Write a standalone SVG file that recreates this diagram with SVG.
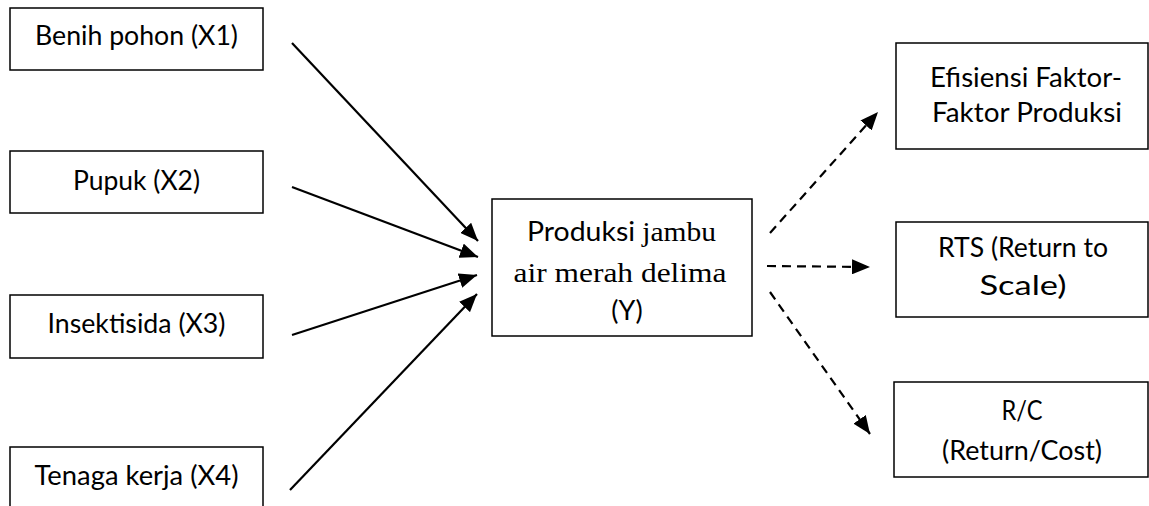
<svg xmlns="http://www.w3.org/2000/svg" width="1149" height="506" viewBox="0 0 1149 506">
<style>
rect.box{fill:#fff;stroke:#000;stroke-width:1.5}
text{font-family:Lato,"Open Sans","Liberation Sans",sans-serif;font-size:27px;fill:#000;text-anchor:middle}
.serif{font-family:"Liberation Serif",serif;font-size:28px}
.solid{stroke:#000;stroke-width:2.2;fill:none}
.dash{stroke:#000;stroke-width:2.2;fill:none;stroke-dasharray:9,6}
</style>
<defs>
<marker id="ah" viewBox="0 0 18 15" refX="18" refY="7.5" markerWidth="18" markerHeight="15" markerUnits="userSpaceOnUse" orient="auto">
<path d="M0,0 L18,7.5 L0,15 Z" fill="#000"/>
</marker>
</defs>
<rect width="1149" height="506" fill="#fff"/>
<g id="x1"><rect class="box" x="10" y="8" width="253" height="62"/><text x="136.5" y="45" textLength="203" lengthAdjust="spacingAndGlyphs">Benih pohon (X1)</text></g>
<g id="x2"><rect class="box" x="10" y="151" width="253" height="62"/><text x="136.5" y="190" textLength="127" lengthAdjust="spacingAndGlyphs">Pupuk (X2)</text></g>
<g id="x3"><rect class="box" x="10" y="295" width="253" height="63"/><text x="136.5" y="333" textLength="178" lengthAdjust="spacingAndGlyphs">Insektisida (X3)</text></g>
<g id="x4"><rect class="box" x="10" y="447" width="253" height="80"/><text x="136.5" y="485" textLength="204" lengthAdjust="spacingAndGlyphs">Tenaga kerja (X4)</text></g>
<g id="y"><rect class="box" x="492" y="199" width="260" height="137"/>
<text x="621.5" y="241" textLength="189" lengthAdjust="spacingAndGlyphs"><tspan>Produksi </tspan><tspan class="serif">jambu</tspan></text>
<text class="serif" x="620" y="282" textLength="213" lengthAdjust="spacingAndGlyphs">air merah delima</text>
<text x="627" y="320">(Y)</text></g>
<g id="eff"><rect class="box" x="896" y="43" width="252" height="106"/><text x="1026" y="87" textLength="192" lengthAdjust="spacingAndGlyphs">Efisiensi Faktor-</text><text x="1027" y="122" textLength="190" lengthAdjust="spacingAndGlyphs">Faktor Produksi</text></g>
<g id="rts"><rect class="box" x="896" y="222" width="252" height="95"/><text x="1023" y="257" textLength="170" lengthAdjust="spacingAndGlyphs">RTS (Return to</text><text x="1023" y="295" textLength="87" lengthAdjust="spacingAndGlyphs">Scale)</text></g>
<g id="rc"><rect class="box" x="894" y="382" width="254" height="95"/><text x="1022" y="420" textLength="41" lengthAdjust="spacingAndGlyphs">R/C</text><text x="1022" y="460" textLength="160" lengthAdjust="spacingAndGlyphs">(Return/Cost)</text></g>
<g id="connectors">
<line class="solid" x1="292" y1="43" x2="478" y2="241" marker-end="url(#ah)"/>
<line class="solid" x1="292" y1="187" x2="478" y2="257" marker-end="url(#ah)"/>
<line class="solid" x1="292" y1="335" x2="477" y2="275" marker-end="url(#ah)"/>
<line class="solid" x1="290" y1="490" x2="477" y2="294" marker-end="url(#ah)"/>
<line class="dash" x1="770" y1="233" x2="878" y2="112" marker-end="url(#ah)"/>
<line class="dash" x1="767" y1="266" x2="870" y2="267" marker-end="url(#ah)"/>
<line class="dash" x1="770" y1="292" x2="870" y2="434" marker-end="url(#ah)"/>
</g>
</svg>
